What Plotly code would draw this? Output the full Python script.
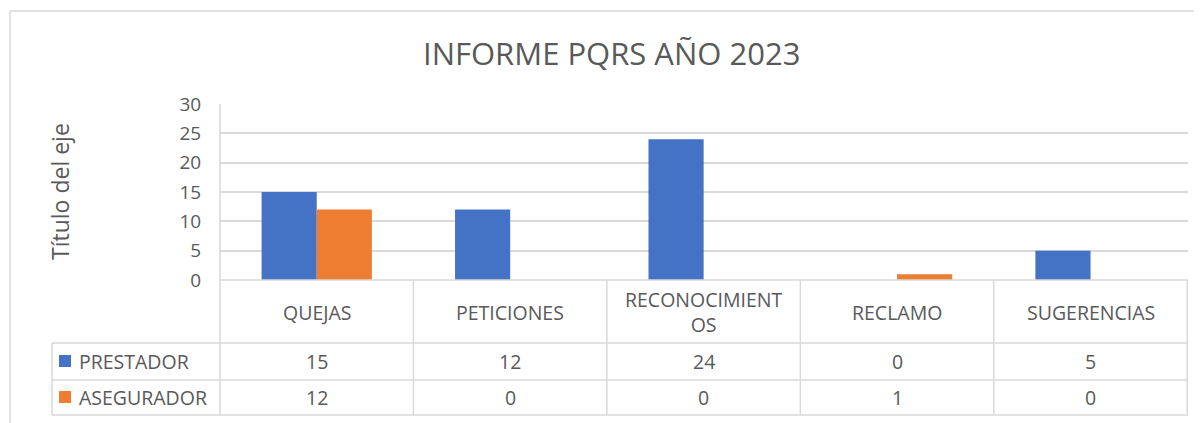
import plotly.graph_objects as go

# data
categorias = ["QUEJAS", "PETICIONES", "RECONOCIMIENTOS", "RECLAMO", "SUGERENCIAS"]
etiquetas = ["QUEJAS", "PETICIONES", "RECONOCIMIENT<br>OS", "RECLAMO", "SUGERENCIAS"]
prestador = [15, 12, 24, 0, 5]
asegurador = [12, 0, 0, 1, 0]
series = [("PRESTADOR", prestador, "#4472C4"), ("ASEGURADOR", asegurador, "#ED7D31")]

# the page body has an 8px margin, so everything is laid out 8px up/left
OFF = 8
W, H = 1202 - OFF, 423 - OFF
FONT = "Open Sans"
GRIS = "#595959"
LINEA = "#d9d9d9"


def px(v):
    return (v - OFF) / W


def py(v):
    return 1 - (v - OFF) / H


fig = go.Figure()
for nombre, vals, color in series:
    fig.add_trace(go.Bar(x=categorias, y=vals, name=nombre, marker_color=color,
                         marker_line_width=0))

shapes = []
annotations = []


def linea(x0, x1, y0, y1, xref="paper"):
    shapes.append(dict(type="line", xref=xref, yref="paper", x0=x0, x1=x1, y0=y0, y1=y1,
                       line=dict(color=LINEA, width=1.5)))


# marco del grafico
linea(px(10), 1, py(11), py(11))
linea(px(10), px(10), py(11), 0)

# tabla de datos
linea(px(220), px(1188), py(280), py(280))
for f in [343, 380, 415]:
    linea(px(52), px(1188), py(f), py(f))
linea(px(52), px(52), py(343), py(415))
linea(px(220), px(220), py(104), py(415))
for i in range(len(categorias)):
    linea(i + 0.5, i + 0.5, py(280), py(415), xref="x")

TXT = 19.5
for cat, lab in zip(categorias, etiquetas):
    annotations.append(dict(x=cat, y=py(312), xref="x", yref="paper", text=lab,
                            xanchor="center", yanchor="middle", showarrow=False,
                            font=dict(family=FONT, size=TXT, color=GRIS)))

centros = [361, 397]
for (nombre, vals, color), yc in zip(series, centros):
    shapes.append(dict(type="rect", xref="paper", yref="paper", x0=px(59), x1=px(71),
                       y0=py(yc - 6), y1=py(yc + 6), fillcolor=color, line=dict(width=0)))
    annotations.append(dict(x=px(77), y=py(yc), xref="paper", yref="paper", text=nombre,
                            xanchor="left", yanchor="middle", showarrow=False,
                            font=dict(family=FONT, size=TXT, color=GRIS)))
    for cat, v in zip(categorias, vals):
        annotations.append(dict(x=cat, y=py(yc), xref="x", yref="paper", text=str(v),
                                xanchor="center", yanchor="middle", showarrow=False,
                                font=dict(family=FONT, size=TXT, color=GRIS)))

# titulos
annotations.append(dict(x=px(611), y=py(53), xref="paper", yref="paper",
                        text="INFORME PQRS AÑO 2023", xanchor="center", yanchor="middle",
                        showarrow=False, font=dict(family=FONT, size=31, color=GRIS)))
annotations.append(dict(x=px(60), y=py(192), xref="paper", yref="paper",
                        text="Título del eje", textangle=-90, xanchor="center",
                        yanchor="middle", showarrow=False,
                        font=dict(family=FONT, size=23, color=GRIS)))

fig.update_layout(
    width=W, height=H, autosize=False,
    margin=dict(l=0, r=0, t=0, b=0),
    paper_bgcolor="white", plot_bgcolor="white",
    showlegend=False,
    bargap=0.43, bargroupgap=0,
    font=dict(family=FONT, color=GRIS),
    shapes=shapes, annotations=annotations,
)
fig.update_xaxes(domain=[px(220), px(1188)], showticklabels=False, showgrid=False,
                 zeroline=False, showline=False, fixedrange=True, automargin=False)
fig.update_yaxes(domain=[py(280), py(104)], range=[0, 30], dtick=5,
                 gridcolor=LINEA, gridwidth=1.5, zeroline=False, showline=False,
                 ticks="outside", ticklen=14, tickcolor="rgba(0,0,0,0)", automargin=False,
                 tickfont=dict(family=FONT, size=19, color=GRIS))

fig.write_html("out.html")
